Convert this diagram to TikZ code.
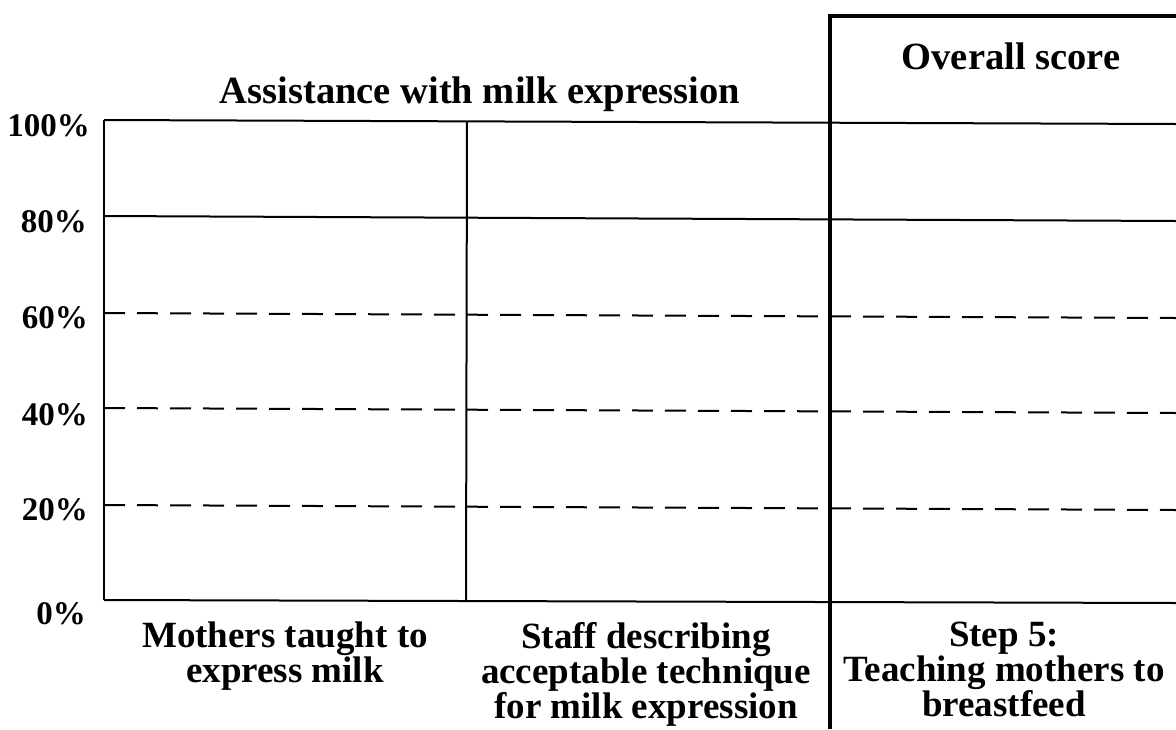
\documentclass[tikz,border=0pt]{standalone}
\usepackage{fontspec}
\setmainfont{Liberation Serif}
\begin{document}
\begin{tikzpicture}[x=1pt,y=-1pt,
  gridline/.style={line width=2pt},
  dashline/.style={line width=2pt, dash pattern=on 21pt off 12pt},
  thickline/.style={line width=3.5pt},
  ylab/.style={anchor=east, inner sep=0pt, font=\fontsize{33}{33}\selectfont\bfseries},
  cat/.style={anchor=north, align=center, inner sep=0pt, font=\fontsize{37}{28}\selectfont\bfseries},
  ttl/.style={anchor=base, inner sep=0pt, font=\fontsize{38.5}{30}\selectfont\bfseries}]
\useasboundingbox (0,0) rectangle (1176,729);
% grid coordinates
\coordinate (L100) at (104,120); \coordinate (R100) at (1176,124);
\coordinate (L80) at (104,216);  \coordinate (R80) at (1176,221);
\coordinate (L60) at (104,313);  \coordinate (R60) at (1176,318);
\coordinate (L40) at (104,408);  \coordinate (R40) at (1176,413);
\coordinate (L20) at (104,505);  \coordinate (R20) at (1176,510);
\coordinate (L0) at (104,600);   \coordinate (R0) at (1176,603);
\coordinate (Mtop) at (467,121); \coordinate (Mbot) at (466,601);
\coordinate (Ttop) at (830,16);  \coordinate (Tbot) at (830,729);
\coordinate (TR) at (1176,16);
% lines
\draw[gridline] (L100) -- (R100);
\draw[gridline] (L80) -- (R80);
\draw[dashline] (L60) -- (R60);
\draw[dashline] (L40) -- (R40);
\draw[dashline] (L20) -- (R20);
\draw[gridline] (L0) -- (R0);
\draw[gridline] (L100) -- (L0);
\draw[gridline] (Mtop) -- (Mbot);
\draw[thickline, line join=miter] (Tbot) -- (Ttop) -- (TR);
% y labels
\node[ylab] (y100) at (90,126) {100\%};
\node[ylab] (y80) at (87,222) {80\%};
\node[ylab] (y60) at (88,318) {60\%};
\node[ylab] (y40) at (88,415) {40\%};
\node[ylab] (y20) at (88,510) {20\%};
\node[ylab] (y0) at (86,614) {0\%};
% titles
\node[ttl] (t1) at (480,103) {Assistance with milk expression};
\node[ttl] (t2) at (1011,69) {Overall score};
% category labels
\node[cat] (c1) at (285,622) {Mothers taught to\\express milk};
\node[cat] (c2) at (646,622) {Staff describing\\acceptable technique\\for milk expression};
\node[cat] (c3) at (1004,622) {Step 5:\\Teaching mothers to\\breastfeed};
\end{tikzpicture}
\end{document}
